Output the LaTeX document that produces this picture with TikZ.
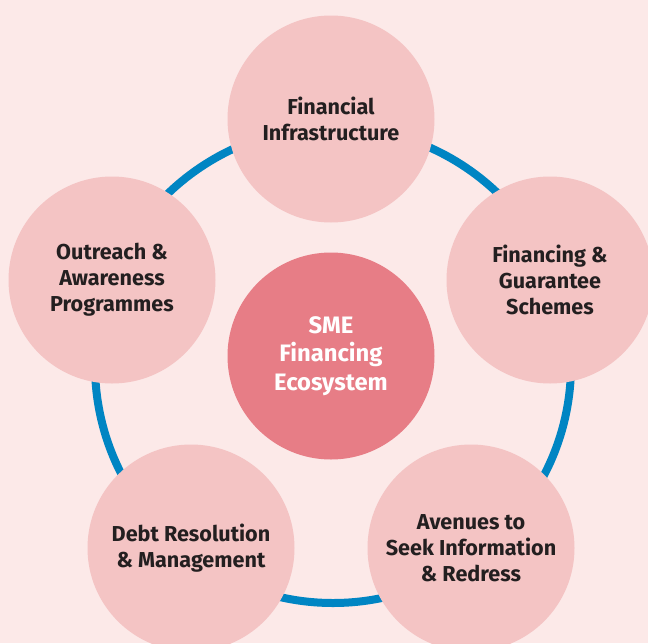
\documentclass[tikz,border=0pt]{standalone}
\usepackage{fontspec}
\setmainfont{Fira Sans}
\usepackage{xcolor}

\begin{document}
\begin{tikzpicture}[x=1pt,y=-1pt,
  topic/.style={circle,minimum size=207,inner sep=0,fill=petal,text=ink,align=center,
    font=\fontsize{21.6}{26}\selectfont\bfseries},
  hub/.style={topic,fill=rose,text=white,font=\fontsize{23.8}{28.5}\selectfont\bfseries}]
\definecolor{backdrop}{HTML}{FCE9E8}
\definecolor{petal}{HTML}{F4C4C4}
\definecolor{rose}{HTML}{E77D86}
\definecolor{ringblue}{HTML}{0085C3}
\definecolor{ink}{HTML}{231F20}
\useasboundingbox (0,0) rectangle (648,643);
\clip (0,0) rectangle (648,643);
\fill[backdrop] (0,0) rectangle (648,643);
\coordinate (mid) at (333,365);
\draw[ringblue,line width=8] (mid) circle (238);
  \foreach \nm/\pos/\txt in {infra/{(331,119)}/{Financial\\Infrastructure},
    schemes/{(550,280)}/{Financing \&\\Guarantee\\Schemes},
    redress/{(471,548)}/{Avenues to\\Seek Information\\\& Redress},
    debt/{(191,548)}/{Debt Resolution\\\& Management},
    outreach/{(112,280)}/{Outreach \&\\Awareness\\Programmes}}
  {  \node [topic] (\nm) at \pos {\txt};}
\node [hub] (sme) at (331,356) {SME\\Financing\\Ecosystem};
\end{tikzpicture}
\end{document}
